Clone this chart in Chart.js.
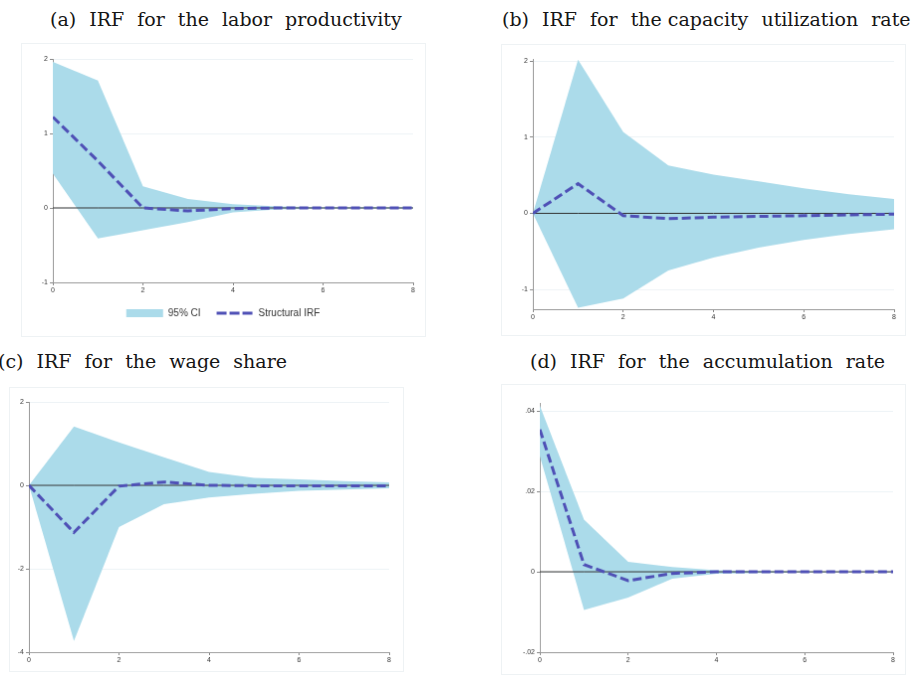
<!doctype html>
<html lang="en">

<head>
    <meta charset="utf-8">
    <title>IRF panels</title>
    <script src="https://cdn.jsdelivr.net/npm/chart.js"></script>
    <style>
        html, body { margin: 0; padding: 0; background: #fff; }
        body { position: relative; width: 914px; height: 676px; overflow: hidden; }
        .title {
            position: absolute;
            font-family: "DejaVu Serif", serif;
            font-size: 19px;
            line-height: 19px;
            word-spacing: 7px;
            color: #151515;
            white-space: nowrap;
        }
        .tight { word-spacing: 0; }
        canvas { position: absolute; border: 1px solid #eef2f4; }
    </style>
</head>

<body>
    <div class="title" style="left:50px; top:10px">(a) IRF for the labor productivity</div>
    <div class="title" style="left:502px; top:10px">(b) IRF for <span class="tight">the capacity</span> utilization rate</div>
    <div class="title" style="left:-2px; top:352px">(c) IRF for the wage share</div>
    <div class="title" style="left:530px; top:352px">(d) IRF for the accumulation rate</div>

    <canvas id="chartA" width="405" height="294" style="left:21px; top:43px"></canvas>
    <canvas id="chartB" width="405" height="292" style="left:501px; top:44px"></canvas>
    <canvas id="chartC" width="395" height="285" style="left:9px; top:387px"></canvas>
    <canvas id="chartD" width="405" height="291" style="left:501px; top:384px"></canvas>

    <script>
        // horizon (periods after the shock)
        const horizons = [0, 1, 2, 3, 4, 5, 6, 7, 8];
        const zeroLine = [0, 0, 0, 0, 0, 0, 0, 0, 0];

        // (a) labor productivity
        const prodIrf = [1.22, 0.63, 0.0, -0.04, -0.01, 0.0, 0.0, 0.0, 0.0];
        const prodUpper = [1.96, 1.71, 0.29, 0.12, 0.05, 0.02, 0.01, 0.01, 0.01];
        const prodLower = [0.46, -0.41, -0.30, -0.19, -0.06, -0.02, -0.01, -0.01, -0.01];

        // (b) capacity utilization rate
        const capIrf = [0, 0.39, -0.03, -0.07, -0.05, -0.04, -0.03, -0.02, -0.01];
        const capUpper = [0, 2.02, 1.07, 0.63, 0.51, 0.42, 0.33, 0.25, 0.19];
        const capLower = [0, -1.24, -1.12, -0.75, -0.58, -0.45, -0.35, -0.27, -0.21];

        // (c) wage share
        const wageIrf = [0, -1.13, -0.02, 0.08, 0.0, -0.01, -0.01, -0.01, -0.01];
        const wageUpper = [0, 1.41, 1.03, 0.67, 0.32, 0.18, 0.14, 0.10, 0.07];
        const wageLower = [0, -3.73, -1.0, -0.45, -0.29, -0.20, -0.13, -0.10, -0.07];

        // (d) accumulation rate
        const accIrf = [0.0354, 0.0018, -0.0022, -0.0004, 0.0, 0.0, 0.0, 0.0, 0.0];
        const accUpper = [0.0413, 0.0130, 0.0025, 0.0012, 0.0004, 0.0002, 0.0001, 0.0001, 0.0001];
        const accLower = [0.0288, -0.0095, -0.0064, -0.0017, -0.0005, -0.0003, -0.0002, -0.0001, -0.0001];

        const ciColor = '#abdbea';
        const irfColor = '#4f50b6';
        const tickFont = { family: 'Liberation Sans, Arial, sans-serif', size: 7 };

        function stataDecimal(v) {
            if (Math.abs(v) < 1e-9) return '0';
            return v.toFixed(2).replace('0.', '.');
        }

        function drawPanel(id, irf, upper, lower, y, pad, yWidth, xHeight, withLegend) {
            const legend = {
                display: withLegend,
                position: 'bottom',
                labels: {
                    usePointStyle: true,
                    pointStyleWidth: 37,
                    boxWidth: 37,
                    boxHeight: 8,
                    padding: 16,
                    color: '#333',
                    font: { family: 'Liberation Sans, Arial, sans-serif', size: 10 },
                    generateLabels: () => [
                        { text: '95% CI', fillStyle: ciColor, strokeStyle: ciColor, fontColor: '#333',
                          lineWidth: 0, pointStyle: 'rect', datasetIndex: 2 },
                        { text: 'Structural IRF', fillStyle: irfColor, strokeStyle: irfColor, fontColor: '#333',
                          lineWidth: 3, lineDash: [10, 3], pointStyle: 'line', datasetIndex: 0 }
                    ]
                }
            };

            new Chart(document.getElementById(id), {
                type: 'line',
                data: {
                    labels: horizons,
                    datasets: [
                        { label: 'Structural IRF', data: irf, borderColor: irfColor, borderWidth: 3,
                          borderDash: [9, 4], pointRadius: 0, fill: false, tension: 0 },
                        { label: 'zero', data: zeroLine, borderColor: '#333', borderWidth: 1,
                          pointRadius: 0, fill: false },
                        { label: '95% CI', data: upper, borderColor: 'rgba(0,0,0,0)', borderWidth: 0,
                          backgroundColor: ciColor, pointRadius: 0, fill: '+1' },
                        { label: '95% CI lower', data: lower, borderColor: 'rgba(0,0,0,0)', borderWidth: 0,
                          pointRadius: 0, fill: false }
                    ]
                },
                options: {
                    responsive: false,
                    animation: false,
                    layout: { padding: pad },
                    plugins: { legend: legend, tooltip: { enabled: false } },
                    scales: {
                        x: {
                            type: 'linear', min: 0, max: 8,
                            ticks: { stepSize: 2, font: tickFont, color: '#333', padding: 1, maxRotation: 0, autoSkip: false },
                            grid: { drawOnChartArea: false, tickLength: 3, tickColor: '#888' },
                            border: { color: '#999' },
                            afterFit: s => { s.height = xHeight; }
                        },
                        y: {
                            min: y.min, max: y.max,
                            ticks: { stepSize: y.step, includeBounds: false, font: tickFont, color: '#333',
                                     padding: 2, callback: y.format },
                            grid: { color: '#edf3f6', tickLength: 3, tickColor: '#888' },
                            border: { color: '#999' },
                            afterFit: s => { s.width = yWidth; }
                        }
                    }
                }
            });
        }

        const intFormat = v => String(v);

        drawPanel('chartA', prodIrf, prodUpper, prodLower,
            { min: -1, max: 2, step: 1, format: intFormat },
            { left: 11, right: 12, top: 15, bottom: 8 }, 20, 10, true);
        drawPanel('chartB', capIrf, capUpper, capLower,
            { min: -1.26, max: 2.03, step: 1, format: intFormat },
            { left: 11, right: 11, top: 14, bottom: 10 }, 20, 16, false);
        drawPanel('chartC', wageIrf, wageUpper, wageLower,
            { min: -4, max: 2, step: 2, format: intFormat },
            { left: 0, right: 14, top: 14, bottom: 3 }, 19, 16, false);
        drawPanel('chartD', accIrf, accUpper, accLower,
            { min: -0.02, max: 0.042, step: 0.02, format: stataDecimal },
            { left: 10, right: 12, top: 18, bottom: 6 }, 28, 16, false);
    </script>
</body>

</html>
